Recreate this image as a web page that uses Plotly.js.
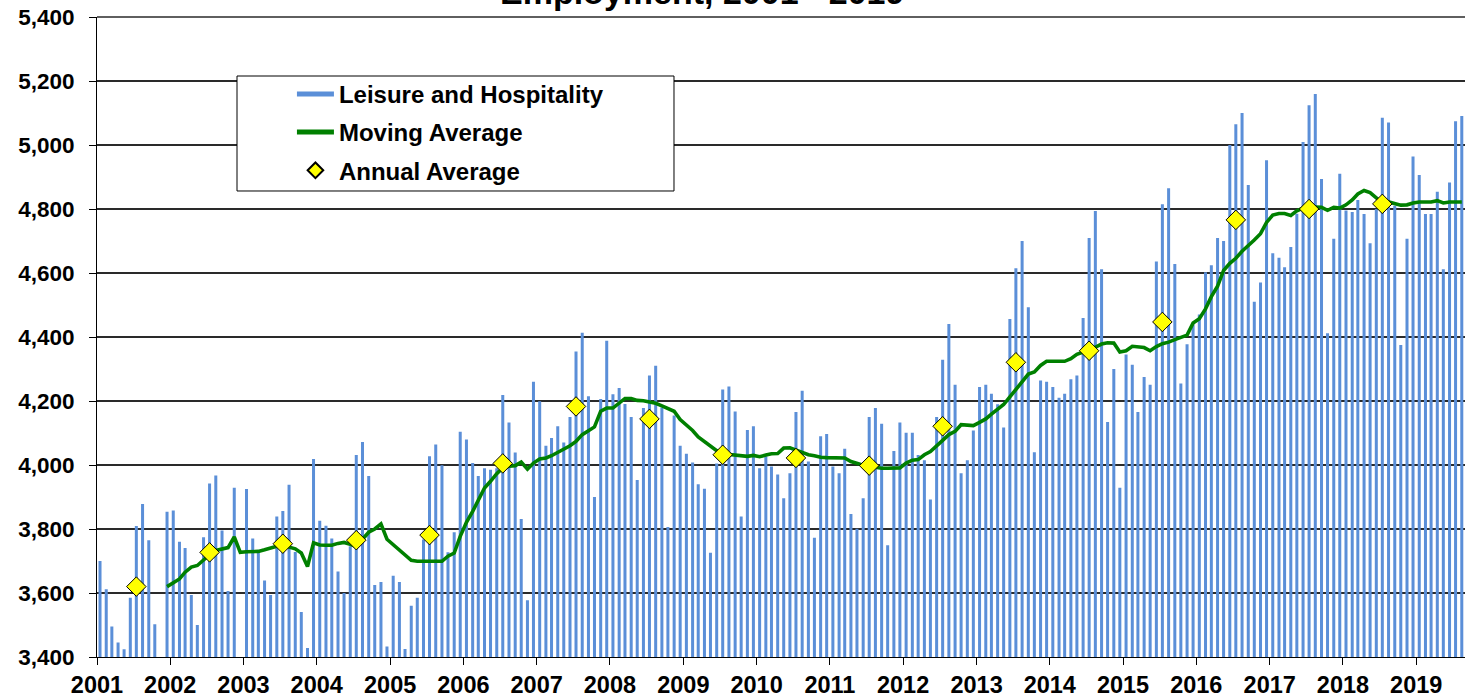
<!DOCTYPE html>
<html>
<head>
<meta charset="utf-8">
<script src="https://cdn.plot.ly/plotly-3.0.1.min.js"></script>
<style>html,body{margin:0;padding:0;background:#fff;}#chart{width:1466px;height:698px;}</style>
</head>
<body>
<div id="chart"></div>
<script>
// Monthly Leisure and Hospitality employment, Jan 2001 - Aug 2019 (thousands)
const startYear = 2001;
const leisure = [
  // 2001
  3700, 3612, 3495, 3445, 3424, 3585, 3809, 3878, 3765, 3502, 3396, 3854,
  // 2002
  3858, 3760, 3741, 3594, 3500, 3774, 3942, 3967, 3795, 3606, 3929, 3396,
  // 2003
  3925, 3770, 3728, 3639, 3594, 3839, 3856, 3938, 3728, 3541, 3428, 4019,
  // 2004
  3826, 3810, 3770, 3667, 3600, 3746, 4031, 4072, 3966, 3625, 3634, 3433,
  // 2005
  3654, 3634, 3425, 3560, 3585, 3767, 4027, 4064, 3999, 3727, 3790, 4104,
  // 2006
  4080, 4006, 3966, 3990, 3985, 3990, 4219, 4133, 4039, 3831, 3577, 4260,
  // 2007
  4199, 4060, 4084, 4121, 4070, 4150, 4355, 4413, 4215, 3900, 4206, 4388,
  // 2008
  4221, 4241, 4191, 4150, 3953, 4178, 4280, 4310, 4180, 3806, 4155, 4060,
  // 2009
  4035, 4008, 3940, 3926, 3726, 4005, 4236, 4245, 4167, 3839, 4109, 4121,
  // 2010
  3990, 4027, 3995, 3970, 3896, 3974, 4166, 4232, 4011, 3773, 4090, 4097,
  // 2011
  3995, 3974, 4051, 3847, 3801, 3896, 4150, 4178, 4129, 3749, 4044, 4133,
  // 2012
  4101, 4101, 4031, 4015, 3892, 4150, 4329, 4441, 4251, 3974, 4015, 4108,
  // 2013
  4244, 4251, 4223, 4190, 4117, 4456, 4615, 4700, 4493, 4040, 4264, 4260,
  // 2014
  4244, 4210, 4223, 4268, 4280, 4459, 4709, 4794, 4612, 4134, 4300, 3929,
  // 2015
  4345, 4313, 4166, 4275, 4251, 4636, 4815, 4865, 4628, 4255, 4377, 4440,
  // 2016
  4470, 4602, 4624, 4709, 4700, 5000, 5065, 5100, 4875, 4510, 4570, 4952,
  // 2017
  4662, 4648, 4618, 4681, 4785, 5009, 5124, 5159, 4894, 4412, 4707, 4910,
  // 2018
  4795, 4791, 4828, 4784, 4693, 4800, 5085, 5070, 4810, 4375, 4707, 4964,
  // 2019
  4906, 4784, 4784, 4854, 4612, 4883, 5074, 5091
];

// 12-month moving average, Dec 2001 - Aug 2019
const movingAvgStart = '2001-12';
const movingAvg = [
  3620,
  3632, 3644, 3665, 3681, 3686, 3705, 3720, 3733, 3738, 3742, 3775, 3727,
  3729, 3730, 3730, 3735, 3741, 3746, 3749, 3744, 3738, 3725, 3683, 3757,
  3750, 3749, 3749, 3755, 3758, 3752, 3745, 3768, 3790, 3800, 3816, 3768,
  3751, 3737, 3720, 3702, 3699, 3699, 3699, 3699, 3699, 3715, 3725, 3777,
  3821, 3855, 3892, 3928, 3949, 3973, 3991, 3996, 3998, 4009, 3987, 4006,
  4019, 4022, 4029, 4040, 4050, 4060, 4074, 4095, 4107, 4119, 4168, 4178,
  4178, 4194, 4208, 4208, 4202, 4201, 4198, 4193, 4185, 4177, 4168, 4142,
  4126, 4108, 4088, 4074, 4060, 4045, 4035, 4033, 4032, 4030, 4027, 4030,
  4026, 4031, 4035, 4036, 4053, 4054, 4046, 4040, 4032, 4029, 4024, 4023,
  4022, 4021, 4022, 4011, 4004, 3999, 3996, 3993, 3990, 3990, 3990, 3991,
  4006, 4015, 4017, 4032, 4042, 4058, 4077, 4095, 4105, 4126, 4124, 4123,
  4133, 4144, 4159, 4173, 4189, 4213, 4235, 4260, 4284, 4291, 4311, 4324,
  4324, 4324, 4324, 4332, 4346, 4353, 4355, 4368, 4378, 4382, 4381, 4353,
  4357, 4371, 4370, 4367, 4357, 4370, 4379, 4384, 4392, 4398, 4406, 4444,
  4457, 4488, 4526, 4559, 4608, 4630, 4646, 4668, 4684, 4703, 4723, 4758,
  4781, 4786, 4786, 4780, 4794, 4803, 4807, 4807, 4805, 4796, 4805, 4803,
  4813, 4828, 4847, 4858, 4851, 4835, 4819, 4822, 4816, 4812, 4813, 4819,
  4822, 4822, 4822, 4826, 4819, 4822, 4822, 4822
];

// Annual averages 2001 - 2018 (plotted at mid-year)
const annualYears = [2001,2002,2003,2004,2005,2006,2007,2008,2009,2010,2011,2012,2013,2014,2015,2016,2017,2018];
const annualAvg = [3620, 3727, 3754, 3765, 3781, 4005, 4183, 4144, 4032, 4022, 3998, 4121, 4321, 4357, 4447, 4766, 4800, 4816];

const seriesNames = ['Leisure and Hospitality', 'Moving Average', 'Annual Average'];
const chartTitle = 'Employment, 2001 - 2019';

function pad(n){ return (n < 10 ? '0' : '') + n; }
function monthDates(y0, m0, count){
  const out = [];
  let y = y0, m = m0;
  for (let i = 0; i < count; i++) {
    out.push(y + '-' + pad(m) + '-16');
    m++; if (m > 12) { m = 1; y++; }
  }
  return out;
}
const barDates = monthDates(startYear, 1, leisure.length);
const maParts = movingAvgStart.split('-');
const maDates = monthDates(+maParts[0], +maParts[1], movingAvg.length);
const annualDates = annualYears.map(y => y + '-07-16');

const FONT = 'Liberation Sans, Arial, Helvetica, sans-serif';
const DAY = 86400000;
const BAR_COLOR = '#5B8FD8';

const traces = [
  {
    type: 'bar', name: seriesNames[0], x: barDates, y: leisure,
    width: barDates.map(() => 15 * DAY),
    marker: {color: BAR_COLOR, line: {width: 0}},
    legendgroup: 'a', showlegend: false, hoverinfo: 'x+y'
  },
  // legend swatch for the bar series (wide rectangle, as in the original legend)
  {
    type: 'scatter', mode: 'lines', name: seriesNames[0], x: [null], y: [null],
    line: {color: BAR_COLOR, width: 14},
    legendgroup: 'a', showlegend: true, hoverinfo: 'skip'
  },
  {
    type: 'scatter', mode: 'lines', name: seriesNames[1], x: maDates, y: movingAvg,
    line: {color: '#008000', width: 3.6},
    legendgroup: 'b'
  },
  {
    type: 'scatter', mode: 'markers', name: seriesNames[2], x: annualDates, y: annualAvg,
    marker: {symbol: 'diamond', size: 15, color: '#FFFF00', line: {color: '#000000', width: 1}},
    legendgroup: 'c'
  }
];

const layout = {
  width: 1466, height: 698,
  margin: {l: 97, r: 1, t: 17, b: 41, pad: 0},
  paper_bgcolor: '#ffffff', plot_bgcolor: '#ffffff',
  font: {family: FONT, color: '#000000'},
  title: {
    text: chartTitle,
    font: {family: FONT, size: 34, weight: 'bold', color: '#000000'},
    xref: 'container', x: 0.479, xanchor: 'center',
    yref: 'container', y: 0.9943, yanchor: 'bottom'
  },
  xaxis: {
    type: 'date', range: ['2001-01-01', '2019-09-01'],
    tick0: '2001-01-01', dtick: 'M12', tickformat: '%Y',
    ticks: 'outside', ticklen: 7, tickwidth: 1, tickcolor: '#000000',
    showline: true, linecolor: '#000000', linewidth: 1,
    showgrid: false, zeroline: false,
    tickfont: {family: FONT, size: 23.5, weight: 'bold', color: '#000000'},
    ticklabelstandoff: 0
  },
  yaxis: {
    range: [3400, 5400], tick0: 3400, dtick: 200, tickformat: ',',
    ticks: 'outside', ticklen: 7, tickwidth: 1, tickcolor: '#000000',
    showline: true, linecolor: '#000000', linewidth: 1,
    showgrid: true, gridcolor: '#2a2a2a', gridwidth: 1.3, zeroline: false,
    tickfont: {family: FONT, size: 22.5, weight: 'bold', color: '#000000'},
    ticklabelstandoff: 10
  },
  showlegend: true,
  legend: {
    x: 0.1425, y: 0.9144, xanchor: 'left', yanchor: 'top',
    xref: 'paper', yref: 'paper',
    bgcolor: 'rgba(0,0,0,0)', borderwidth: 0,
    font: {family: FONT, size: 24, weight: 'bold', color: '#000000'},
    itemwidth: 37, tracegroupgap: 4, itemsizing: 'constant',
    traceorder: 'grouped'
  },
  shapes: [
    {type: 'rect', xref: 'paper', yref: 'paper',
     x0: 0.10234, x1: 0.42178, y0: 0.72813, y1: 0.90781,
     line: {color: '#000000', width: 1}, fillcolor: '#ffffff', layer: 'above'},
    {type: 'line', xref: 'paper', yref: 'paper', x0: 0, x1: 1, y0: 1, y1: 1,
     line: {color: '#2a2a2a', width: 1.3}, layer: 'below'}
  ]
};

Plotly.newPlot('chart', traces, layout, {displayModeBar: false, staticPlot: true});
</script>
</body>
</html>
